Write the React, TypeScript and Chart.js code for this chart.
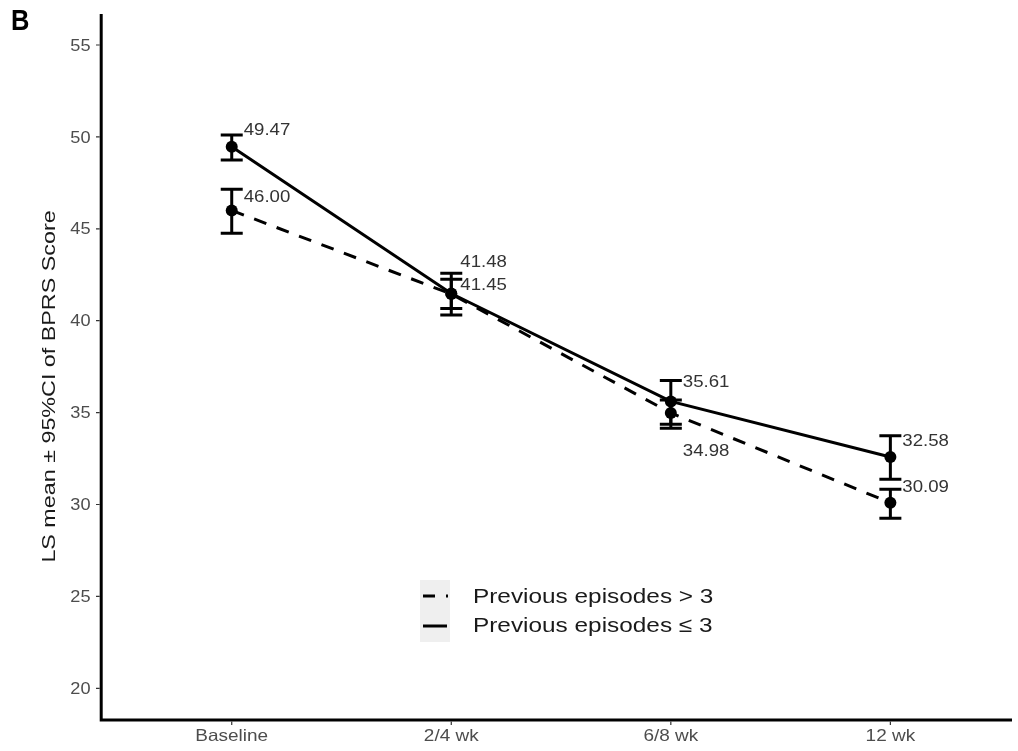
import React, { useEffect, useRef } from "react";
import { Chart, registerables } from "chart.js";

Chart.register(...registerables);

// ---- data ----
const CATEGORIES = ["Baseline", "2/4 wk", "6/8 wk", "12 wk"];
const LE3_MEAN = [49.47, 41.48, 35.61, 32.58];
const LE3_LOWER = [48.74, 40.67, 34.37, 31.37];
const LE3_UPPER = [50.1, 42.25, 36.74, 33.74];
const GT3_MEAN = [46.0, 41.45, 34.98, 30.09];
const GT3_LOWER = [44.76, 40.31, 34.15, 29.25];
const GT3_UPPER = [47.15, 42.58, 35.69, 30.83];
const Y_TICKS = [20, 25, 30, 35, 40, 45, 50, 55];
const SERIES_NAMES = ["Previous episodes > 3", "Previous episodes \u2264 3"];
const Y_TITLE = "LS mean \u00b1 95%CI of BPRS Score";
const PANEL_TAG = "B";

// ---- label nudges (pixels, style only) ----
const LE3_NUDGE_DX = [12, 9, 12, 12];
const LE3_NUDGE_DY = [-17.6, -32.5, -20, -17];
const GT3_NUDGE_DX = [12, 9, 12, 12];
const GT3_NUDGE_DY = [-14, -10, 37, -17];

const FONT = "'Liberation Sans', Arial, Helvetica, sans-serif";
const SX = 1.15;

function drawText(
  ctx: CanvasRenderingContext2D,
  text: string,
  x: number,
  cy: number,
  size: number,
  color: string,
  align: CanvasTextAlign,
  sx: number = SX,
  weight: string = "normal"
) {
  ctx.save();
  ctx.translate(x, cy + size * 0.358);
  ctx.scale(sx, 1);
  ctx.font = `${weight} ${size}px ${FONT}`;
  ctx.fillStyle = color;
  ctx.textAlign = align;
  ctx.textBaseline = "alphabetic";
  ctx.fillText(text, 0, 0);
  ctx.restore();
}

const decorPlugin = {
  id: "decor",
  afterDatasetsDraw(chart: any) {
    const ctx: CanvasRenderingContext2D = chart.ctx;
    const xs = chart.scales.x;
    const ys = chart.scales.y;
    // error bars
    const drawBars = (lo: number[], hi: number[]) => {
      ctx.save();
      ctx.strokeStyle = "#000";
      ctx.lineWidth = 3;
      ctx.lineCap = "butt";
      lo.forEach((l, i) => {
        const x = xs.getPixelForValue(i);
        const y1 = ys.getPixelForValue(l);
        const y2 = ys.getPixelForValue(hi[i]);
        ctx.beginPath();
        ctx.moveTo(x, y1);
        ctx.lineTo(x, y2);
        ctx.moveTo(x - 11, y1);
        ctx.lineTo(x + 11, y1);
        ctx.moveTo(x - 11, y2);
        ctx.lineTo(x + 11, y2);
        ctx.stroke();
      });
      ctx.restore();
    };
    drawBars(GT3_LOWER, GT3_UPPER);
    drawBars(LE3_LOWER, LE3_UPPER);

    // value labels
    const drawLabels = (m: number[], dx: number[], dy: number[]) => {
      m.forEach((v, i) => {
        const x = xs.getPixelForValue(i) + dx[i];
        const y = ys.getPixelForValue(v) + dy[i];
        drawText(ctx, v.toFixed(2), x, y, 16.2, "#333333", "left");
      });
    };
    drawLabels(LE3_MEAN, LE3_NUDGE_DX, LE3_NUDGE_DY);
    drawLabels(GT3_MEAN, GT3_NUDGE_DX, GT3_NUDGE_DY);
  },
  afterDraw(chart: any) {
    const ctx: CanvasRenderingContext2D = chart.ctx;
    const xs = chart.scales.x;
    const ys = chart.scales.y;
    const area = chart.chartArea;

    // axis lines
    ctx.save();
    ctx.strokeStyle = "#000";
    ctx.lineWidth = 3;
    ctx.beginPath();
    ctx.moveTo(area.left + 1.2, area.top);
    ctx.lineTo(area.left + 1.2, area.bottom + 1.5);
    ctx.moveTo(area.left - 0.3, area.bottom);
    ctx.lineTo(area.right, area.bottom);
    ctx.stroke();

    // tick marks
    ctx.strokeStyle = "#333";
    ctx.lineWidth = 1.2;
    ctx.beginPath();
    Y_TICKS.forEach((t) => {
      const y = ys.getPixelForValue(t);
      ctx.moveTo(area.left - 4, y);
      ctx.lineTo(area.left - 0.3, y);
    });
    CATEGORIES.forEach((_, i) => {
      const x = xs.getPixelForValue(i);
      ctx.moveTo(x, area.bottom + 1.5);
      ctx.lineTo(x, area.bottom + 5);
    });
    ctx.stroke();
    ctx.restore();

    // tick labels
    Y_TICKS.forEach((t) => {
      drawText(ctx, String(t), area.left - 9.5, ys.getPixelForValue(t), 15.8, "#4d4d4d", "right");
    });
    CATEGORIES.forEach((c, i) => {
      drawText(ctx, c, xs.getPixelForValue(i), area.bottom + 15, 16.5, "#4d4d4d", "center");
    });

    // y title
    ctx.save();
    ctx.translate(48, 386.5);
    ctx.rotate(-Math.PI / 2);
    drawText(ctx, Y_TITLE, 0, 0, 18.5, "#1a1a1a", "center", 1.26);
    ctx.restore();

    // panel tag
    drawText(ctx, PANEL_TAG, 11, 19.2, 30, "#000", "left", 0.85, "bold");

    // legend
    ctx.save();
    ctx.fillStyle = "#efefef";
    ctx.fillRect(420, 580, 30, 62);
    ctx.strokeStyle = "#000";
    ctx.lineWidth = 3;
    ctx.setLineDash([12, 11]);
    ctx.beginPath();
    ctx.moveTo(423, 596);
    ctx.lineTo(448, 596);
    ctx.stroke();
    ctx.setLineDash([]);
    ctx.beginPath();
    ctx.moveTo(423, 626);
    ctx.lineTo(447, 626);
    ctx.stroke();
    ctx.restore();
    drawText(ctx, SERIES_NAMES[0], 473, 595, 21, "#1a1a1a", "left", 1.16);
    drawText(ctx, SERIES_NAMES[1], 473, 624, 21, "#1a1a1a", "left", 1.16);
  },
};

export default function App() {
  const ref = useRef<HTMLCanvasElement | null>(null);
  useEffect(() => {
    if (!ref.current) return;
    const toPts = (arr: number[]) => arr.map((v, i) => ({ x: i, y: v }));
    const chart = new Chart(ref.current, {
      type: "line",
      data: {
        datasets: [
          {
            label: SERIES_NAMES[0],
            data: toPts(GT3_MEAN),
            borderColor: "#000",
            backgroundColor: "#000",
            borderWidth: 3,
            borderDash: [13, 11],
            pointRadius: 6,
            pointBorderWidth: 0,
            pointBackgroundColor: "#000",
            tension: 0,
          },
          {
            label: SERIES_NAMES[1],
            data: toPts(LE3_MEAN),
            borderColor: "#000",
            backgroundColor: "#000",
            borderWidth: 3,
            pointRadius: 6,
            pointBorderWidth: 0,
            pointBackgroundColor: "#000",
            tension: 0,
          },
        ],
      },
      options: {
        animation: false,
        responsive: false,
        devicePixelRatio: 1,
        layout: { padding: { left: 100, top: 14, right: 0, bottom: 31 } },
        plugins: { legend: { display: false }, tooltip: { enabled: false } },
        scales: {
          x: { type: "linear", display: false, min: -0.6, max: 3.554 },
          y: { type: "linear", display: false, min: 18.275, max: 56.687 },
        },
      },
      plugins: [decorPlugin],
    } as any);
    return () => chart.destroy();
  }, []);
  return (
    <div style={{ position: "fixed", left: 0, top: 0, width: 1018, height: 751, background: "#fff" }}>
      <canvas ref={ref} width={1018} height={751} style={{ display: "block" }} />
    </div>
  );
}
